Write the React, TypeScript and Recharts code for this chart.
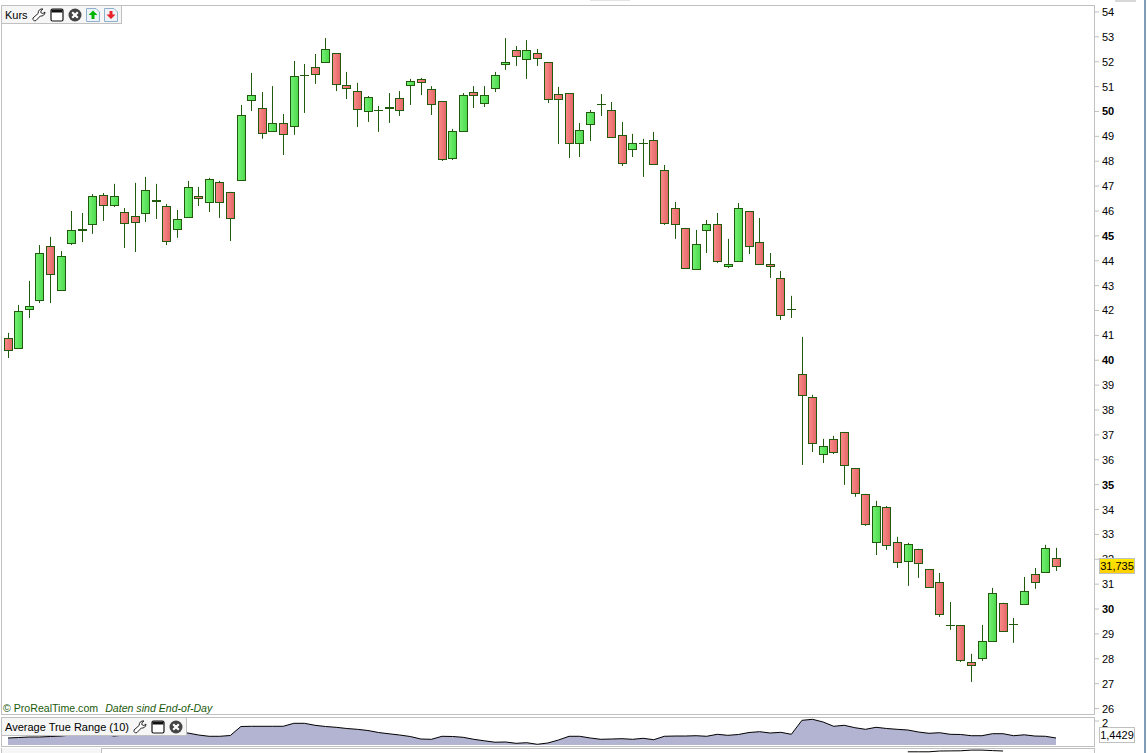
import { Area, Bar, ComposedChart, Line, LineChart, XAxis, YAxis } from 'recharts';

const highs = [41.10,42.22,43.19,44.63,44.96,44.39,46.00,45.92,46.68,46.72,47.09,46.12,47.13,47.37,47.09,46.28,46.04,47.21,46.97,47.33,47.21,46.77,50.26,51.55,50.78,51.02,49.90,52.03,51.91,52.31,52.95,52.35,51.59,51.15,50.62,50.22,50.74,50.82,51.31,51.35,51.02,50.42,49.30,50.74,51.02,51.02,51.59,52.95,52.63,52.87,52.51,51.99,50.99,50.74,49.54,50.06,50.70,50.38,49.58,49.10,48.90,49.18,47.85,46.36,45.32,45.24,45.64,45.92,44.88,46.32,46.00,45.72,44.31,43.59,42.59,40.94,38.61,36.84,36.96,37.12,35.67,34.63,34.35,34.14,32.90,32.66,32.42,31.61,31.45,30.28,29.36,28.20,29.36,30.85,30.25,29.64,31.29,31.65,32.58,32.46];
const lows = [40.09,40.50,41.70,42.30,42.30,42.82,44.63,44.75,45.08,45.60,46.16,44.51,44.35,45.56,45.68,44.63,44.92,45.76,46.20,45.96,45.72,44.79,47.25,50.02,48.90,49.22,48.25,49.06,49.94,51.11,51.99,50.82,50.50,49.38,49.58,49.18,49.54,49.82,50.26,50.66,49.86,48.01,48.05,49.22,50.14,50.18,50.78,51.67,51.83,51.31,51.83,50.34,48.69,48.13,48.17,48.81,49.82,48.94,47.81,48.17,47.37,47.89,45.44,44.88,43.71,43.63,44.31,43.91,43.71,43.99,44.27,43.87,43.31,41.62,41.70,35.79,36.31,35.87,36.23,34.99,34.51,33.34,32.17,32.38,31.65,30.93,31.25,30.89,29.68,29.16,27.87,27.07,27.91,28.72,29.08,28.64,30.21,30.81,31.45,31.53];
const opens = [40.90,40.50,42.06,42.42,44.60,42.82,44.71,45.24,45.48,46.64,46.24,45.96,45.80,45.92,46.44,46.20,45.28,45.76,46.60,46.36,47.17,46.77,47.25,50.46,50.14,49.22,49.54,49.42,51.47,51.79,51.99,52.35,51.07,50.82,50.02,50.06,50.18,50.54,51.07,51.31,50.91,50.42,48.13,49.22,50.78,50.34,50.95,51.91,52.47,52.11,52.35,51.99,50.70,50.74,48.73,49.50,50.30,50.06,49.06,48.49,48.73,48.85,47.65,46.12,45.32,43.67,45.24,45.48,43.79,43.99,46.00,44.75,43.87,43.31,42.06,39.45,38.53,36.23,36.84,37.12,35.67,34.63,32.70,34.10,32.70,31.93,32.42,31.61,31.09,29.36,29.36,27.87,28.03,28.72,30.25,29.40,30.21,31.41,31.49,32.06];
const closes = [40.41,41.98,42.18,44.31,43.47,44.19,45.24,45.28,46.60,46.24,46.60,45.52,45.56,46.85,46.40,44.79,45.68,46.97,46.52,47.29,46.36,45.72,49.86,50.66,49.14,49.54,49.10,51.43,51.47,51.51,52.51,51.11,50.95,50.10,50.58,50.06,50.14,50.06,51.23,51.19,50.30,48.09,49.22,50.66,50.66,50.66,51.47,51.99,52.23,52.47,52.15,50.50,50.50,48.73,49.26,49.98,50.30,48.98,47.93,48.73,48.73,47.89,45.52,45.48,43.71,44.67,45.48,43.99,43.87,46.12,44.60,43.87,43.79,41.82,42.06,38.61,36.68,36.56,36.31,35.79,34.67,33.42,34.14,32.58,31.89,32.62,31.85,30.89,29.80,29.36,27.95,27.75,28.72,30.65,29.12,29.40,30.73,31.09,32.46,31.73];
const atrValues = [1.443,1.459,1.476,1.476,1.492,1.508,1.541,1.574,1.607,1.574,1.508,1.541,1.574,1.574,1.607,1.640,1.640,1.607,1.541,1.499,1.499,1.525,1.820,1.827,1.827,1.827,1.827,1.925,1.925,1.860,1.820,1.794,1.755,1.728,1.689,1.623,1.581,1.541,1.492,1.410,1.400,1.499,1.492,1.466,1.400,1.351,1.305,1.312,1.269,1.289,1.236,1.279,1.377,1.499,1.499,1.443,1.400,1.410,1.420,1.400,1.433,1.387,1.499,1.508,1.508,1.518,1.499,1.564,1.531,1.558,1.623,1.650,1.607,1.630,1.564,2.023,2.056,1.968,1.827,1.860,1.781,1.728,1.794,1.755,1.728,1.705,1.640,1.597,1.617,1.564,1.558,1.518,1.518,1.584,1.584,1.518,1.548,1.508,1.499,1.443];
// third indicator, only its top edge shows at the bottom of the window
const lowerIndex = [85, 86, 87, 88, 89, 90, 91, 92, 93, 94];
const lowerValues = [1.2, 1.2, 1.2, 2, 2.1, 2.2, 2.9, 2.9, 2.4, 2];

const priceTicks = [26,27,28,29,30,31,32,33,34,35,36,37,38,39,40,41,42,43,44,45,46,47,48,49,50,51,52,53,54];
const atrTicks = [2];

const candles = highs.map((high, i) => ({
  index: i,
  high,
  low: lows[i],
  open: opens[i],
  close: closes[i],
  range: [lows[i], high],
}));
const atrData = atrValues.map((atr, i) => ({ index: i, atr }));
const lowerData = atrValues.map((_, i) => {
  const at = lowerIndex.indexOf(i);
  return { index: i, v: at >= 0 ? lowerValues[at] : null };
});

const EDGE = '#225a0d';
const PANEL = '#c0c0c0';
const FONT = '"Liberation Sans", Arial, sans-serif';
const barPadding = { left: 1.71, right: 32.7 };
const pointPadding = { left: 7, right: 38 };

function Candle(props: any) {
  const { x, y, width, height, payload } = props;
  const top = Math.min(y, y + height);
  const h = Math.abs(height);
  const toY = (p: number) => top + ((payload.high - p) / (payload.high - payload.low)) * h;
  const cx = Math.round(x + width / 2) + 0.5;
  const yTop = Math.round(toY(Math.max(payload.open, payload.close))) + 0.5;
  const yBottom = Math.round(toY(Math.min(payload.open, payload.close))) + 0.5;
  const up = payload.close > payload.open;
  return (
    <g>
      <line x1={cx} x2={cx} y1={top} y2={top + h} stroke={EDGE} strokeWidth={1} />
      {yBottom === yTop ? (
        <line x1={cx - 4.5} x2={cx + 4.5} y1={yTop} y2={yTop} stroke={EDGE} strokeWidth={1} />
      ) : (
        <rect
          x={cx - 4}
          y={yTop}
          width={8}
          height={yBottom - yTop}
          fill={up ? 'url(#upBody)' : 'url(#downBody)'}
          stroke={EDGE}
          strokeWidth={1}
        />
      )}
    </g>
  );
}

function PriceTick({ x, y, payload, dy = 4 }: any) {
  return (
    <text
      x={x + 1}
      y={y + dy}
      fontFamily={FONT}
      fontSize={11}
      fontWeight={payload.value % 5 === 0 ? 700 : 400}
      fill="#000"
    >
      {payload.value}
    </text>
  );
}

const iconStyle = { flexShrink: 0 };

function Wrench() {
  return (
    <svg width="14" height="14" viewBox="0 0 14 14" style={iconStyle}>
      <path
        d="M1 11.5 L2.5 13 L4 12.5 L8.3 8 C10.5 8.5 13 7 13 4 L10.8 5.6 L8.8 4.6 L9 2.6 L11 1 C8 0.5 6 2.5 6.2 5.4 L1 10 Z"
        fill="#fff"
        stroke="#222"
        strokeWidth="1"
      />
    </svg>
  );
}

function WindowIcon() {
  return (
    <svg width="14" height="14" viewBox="0 0 14 14" style={iconStyle}>
      <rect x="1" y="1" width="12" height="12" rx="1.5" fill="#fff" stroke="#111" strokeWidth="1.2" />
      <rect x="1.5" y="1.5" width="11" height="3" fill="#111" />
    </svg>
  );
}

function CloseIcon() {
  return (
    <svg width="14" height="14" viewBox="0 0 14 14" style={iconStyle}>
      <circle cx="7" cy="7" r="6.5" fill="#444" />
      <path d="M4.2 4.2 L9.8 9.8 M9.8 4.2 L4.2 9.8" stroke="#fff" strokeWidth="2.2" />
    </svg>
  );
}

function DocArrow({ color, down }: { color: string; down?: boolean }) {
  return (
    <svg width="14" height="14" viewBox="0 0 14 14" style={iconStyle}>
      <path d="M0.5 0.5 H10 L13.5 4 V13.5 H0.5 Z" fill="#eef3f8" stroke="#8fb0cc" strokeWidth="1" />
      <path
        d={down ? 'M5.5 3 H8.5 V6.5 H11.5 L7 11 L2.5 6.5 H5.5 Z' : 'M7 2.5 L11.5 7 H8.5 V11 H5.5 V7 H2.5 Z'}
        fill={color}
      />
    </svg>
  );
}

const box = (left: number, top: number, width: number, height: number, extra = {}) =>
  ({
    position: 'absolute',
    left,
    top,
    width,
    height,
    boxSizing: 'border-box',
    ...extra,
  }) as React.CSSProperties;

export default function App() {
  return (
    <div style={box(0, 0, 1147, 753, { background: '#fff', overflow: 'hidden', fontFamily: FONT })}>
      <div style={box(590, 0, 40, 1, { background: '#e4e4e4' })} />
      <div style={box(1115, 0, 21, 2, { background: '#d8d8d8' })} />

      {/* panel frames */}
      <div style={box(1, 5, 1094, 710, { border: `1px solid ${PANEL}` })} />
      <div style={box(1, 717, 1094, 30, { border: `1px solid ${PANEL}` })} />
      <div style={box(1, 748, 1094, 8, { border: `1px solid ${PANEL}` })} />
      <div style={box(1144, 0, 2, 753, { background: '#7f9db9' })} />

      <div style={box(0, 0, 1147, 715)}>
        <ComposedChart
          width={1147}
          height={715}
          data={candles}
          margin={{ top: 5, right: 0, bottom: 1, left: 1 }}
        >
          <defs>
            <linearGradient id="upBody" x1="0" y1="0" x2="1" y2="0">
              <stop offset="0%" stopColor="#74f274" />
              <stop offset="100%" stopColor="#4cd84c" />
            </linearGradient>
            <linearGradient id="downBody" x1="0" y1="0" x2="1" y2="0">
              <stop offset="0%" stopColor="#fb8a8a" />
              <stop offset="100%" stopColor="#e26666" />
            </linearGradient>
          </defs>
          <XAxis dataKey="index" hide padding={barPadding} />
          <YAxis
            orientation="right"
            width={53}
            domain={[25.78, 54.28]}
            ticks={priceTicks}
            interval={0}
            axisLine={false}
            tickLine={{ stroke: PANEL }}
            tickSize={5}
            tick={<PriceTick />}
          />
          <Bar dataKey="range" barSize={8} shape={<Candle />} isAnimationActive={false} />
        </ComposedChart>
      </div>

      <div style={box(0, 717, 1147, 29)}>
        <ComposedChart
          width={1147}
          height={29}
          data={atrData}
          margin={{ top: 0, right: 0, bottom: 1, left: 1 }}
        >
          <XAxis dataKey="index" hide padding={pointPadding} />
          <YAxis
            orientation="right"
            width={53}
            domain={[1.2133, 2.132]}
            ticks={atrTicks}
            interval={0}
            axisLine={false}
            tickLine={{ stroke: PANEL }}
            tickSize={5}
            tick={<PriceTick dy={6} />}
          />
          <Area
            type="linear"
            dataKey="atr"
            stroke="#000"
            strokeWidth={1}
            fill="#b3b3d2"
            fillOpacity={1}
            dot={false}
            isAnimationActive={false}
          />
        </ComposedChart>
      </div>

      <div style={box(0, 748, 1147, 5)}>
        <LineChart width={1147} height={5} data={lowerData} margin={{ top: 0, right: 53, bottom: 0, left: 1 }}>
          <XAxis dataKey="index" hide padding={pointPadding} />
          <YAxis hide domain={[0, 5]} />
          <Line
            type="linear"
            dataKey="v"
            stroke="#000"
            strokeWidth={1}
            dot={false}
            connectNulls={false}
            isAnimationActive={false}
          />
        </LineChart>
      </div>

      {/* legends */}
      <div
        style={box(2, 6, 120, 18, {
          background: '#f6f6f6',
          borderRight: `1px solid ${PANEL}`,
          borderBottom: `1px solid ${PANEL}`,
          fontSize: 11,
          color: '#000',
          paddingLeft: 3,
          display: 'flex',
          alignItems: 'center',
          gap: 4,
        })}
      >
        <span>Kurs</span>
        <Wrench />
        <WindowIcon />
        <CloseIcon />
        <DocArrow color="#00b400" />
        <DocArrow color="#e8222a" down />
      </div>

      <div
        style={box(2, 718, 185, 18, {
          background: '#f6f6f6',
          borderRight: `1px solid ${PANEL}`,
          borderBottom: `1px solid ${PANEL}`,
          fontSize: 11,
          color: '#000',
          paddingLeft: 3,
          display: 'flex',
          alignItems: 'center',
          gap: 4,
        })}
      >
        <span style={{ whiteSpace: 'nowrap' }}>Average True Range (10)</span>
        <Wrench />
        <WindowIcon />
        <CloseIcon />
      </div>

      <div style={box(2, 748, 100, 6, { background: '#f6f6f6', borderRight: `1px solid ${PANEL}` })} />

      <div style={box(3, 701, 300, 14, { fontSize: 10.6, lineHeight: '14px', color: EDGE, whiteSpace: 'nowrap' })}>
        © ProRealTime.com
        <span style={{ fontStyle: 'italic', marginLeft: 7 }}>Daten sind End-of-Day</span>
      </div>

      {/* last value flags */}
      <div
        style={box(1099, 558, 36, 16, {
          background: 'linear-gradient(#ffe800, #ffd000)',
          border: `1px solid ${PANEL}`,
          fontSize: 11,
          lineHeight: '14px',
          textAlign: 'center',
          color: '#000',
        })}
      >
        31,735
      </div>
      <div
        style={box(1099, 727, 36, 16, {
          background: '#fff',
          border: `1px solid ${PANEL}`,
          fontSize: 11,
          lineHeight: '14px',
          textAlign: 'center',
          color: '#000',
        })}
      >
        1,4429
      </div>
    </div>
  );
}
